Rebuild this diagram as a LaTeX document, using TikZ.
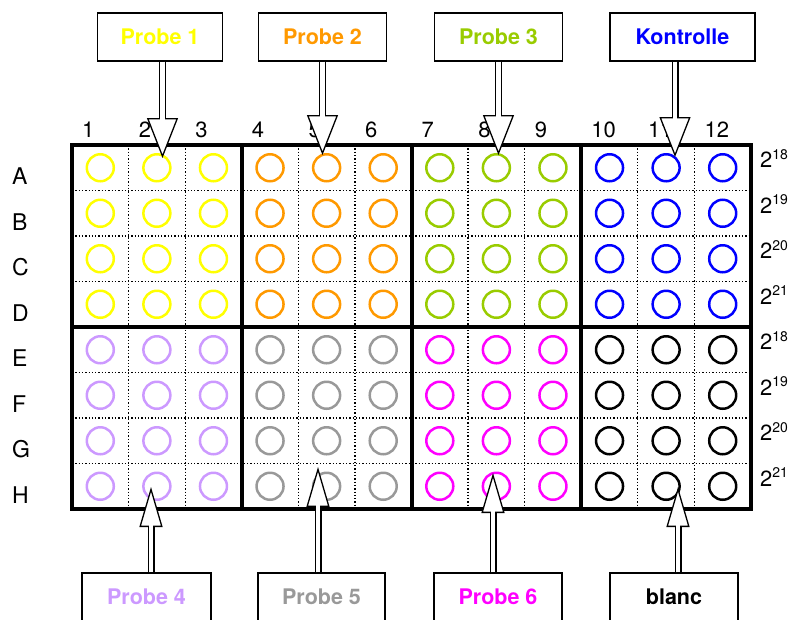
\documentclass[tikz,border=0pt]{standalone}
\usepackage{fontspec}
\setmainfont{TeX Gyre Heros}
\usepackage{xcolor}
\usetikzlibrary{arrows.meta,positioning}

\definecolor{pone}{HTML}{FFFF00}
\definecolor{ptwo}{HTML}{FF9900}
\definecolor{pthree}{HTML}{99CC00}
\definecolor{pctrl}{HTML}{0000FF}
\definecolor{pfour}{HTML}{CC99FF}
\definecolor{pfive}{HTML}{999999}
\definecolor{psix}{HTML}{FF00FF}
\definecolor{pblanc}{HTML}{000000}

\begin{document}
\begin{tikzpicture}[
x=1pt,
y=-1pt,
every node/.style={font=\fontsize{22}{26}\selectfont},
well/.style={circle,line width=2.5pt,minimum size=27pt,inner sep=0pt},
lab/.style={rectangle,draw,line width=1.4pt,fill=white,minimum height=48pt,inner sep=0pt,font=\fontsize{21.5}{26}\selectfont\bfseries},
colnum/.style={anchor=base west,inner sep=0pt},
rowlab/.style={anchor=base west,inner sep=0pt,font=\fontsize{23}{26}\selectfont},
expo/.style={anchor=base west,inner sep=0pt},
plate/.style={line width=4pt},
sep/.style={dotted,line width=1.3pt},
down/.style={line width=7pt,-{Triangle[length=40pt 0 0,width=31pt 0 0,line width=1.3pt 0 0,fill=white]},postaction={draw=white,line width=4.4pt,-,shorten >=38pt}},
up/.style={line width=7pt,-{Triangle[length=40pt 0 0,width=23pt 0 0,line width=1.3pt 0 0,fill=white]},postaction={draw=white,line width=4.4pt,-,shorten >=38pt}}
]
\useasboundingbox (0,0) rectangle (789,619);

% plate grid
\foreach \k in {1,...,11} \draw[sep] ({72+\k*56.583},145) -- ({72+\k*56.583},509);
\foreach \i in {1,...,7} \draw[sep] (72,{145+\i*45.5}) -- (751,{145+\i*45.5});
\draw[plate] (72,145) rectangle (751,509);
\foreach \k in {3,6,9} \draw[plate] ({72+\k*56.583},145) -- ({72+\k*56.583},509);
\draw[plate] (72,327) -- (751,327);

% wells
\foreach \b/\ct/\cb in {0/pone/pfour,1/ptwo/pfive,2/pthree/psix,3/pctrl/pblanc}{
  \foreach \k in {1,2,3}{
    \pgfmathtruncatemacro{\cc}{3*\b+\k}
    \foreach \r/\i in {A/1,B/2,C/3,D/4}
      \node[well,draw=\ct] (w-\r-\cc) at ({72+(\cc-0.5)*56.583},{145+(\i-0.5)*45.5}) {};
    \foreach \r/\i in {E/5,F/6,G/7,H/8}
      \node[well,draw=\cb] (w-\r-\cc) at ({72+(\cc-0.5)*56.583},{145+(\i-0.5)*45.5}) {};
  }
}

% labels round the plate
\foreach \k in {1,...,12} \node[colnum] (n\k) at ({82+(\k-1)*56.583},137) {\k};
\foreach \r/\i in {A/1,B/2,C/3,D/4,E/5,F/6,G/7,H/8}
  \node[rowlab] (r\r) at (12,{145+(\i-0.5)*45.5+17}) {\r};
\foreach \r/\i/\e in {A/1/18,B/2/19,C/3/20,D/4/21,E/5/18,F/6/19,G/7/20,H/8/21}
  \node[expo] (e\r) at (760,{145+(\i-0.5)*45.5}) {2\raisebox{8.5pt}{\fontsize{14}{14}\selectfont\e}};

% sample boxes
\node[lab,minimum width=124.6pt,text=pone] (p1) at (160,37) {Probe 1};
\node[lab,minimum width=128.4pt,text=ptwo] (p2) at (322.5,37) {Probe 2};
\node[lab,minimum width=128.4pt,text=pthree] (p3) at (498.5,37) {Probe 3};
\node[lab,minimum width=145pt,text=pctrl] (ctrl) at (682.5,37) {Kontrolle};
\node[lab,minimum width=129pt,text=pfour] (p4) at (146.5,597) {Probe 4};
\node[lab,minimum width=127pt,text=pfive] (p5) at (321.5,597) {Probe 5};
\node[lab,minimum width=128pt,text=psix] (p6) at (498,597) {Probe 6};
\node[lab,minimum width=128pt,text=pblanc] (blanc) at (674,597) {blanc};

% arrow tips
\coordinate (t1) at (162.5,158);
\coordinate (t2) at (322.5,155);
\coordinate (t3) at (498.5,155);
\coordinate (tk) at (675,157);
\coordinate (t4) at (151,487);
\coordinate (t5) at (318,467);
\coordinate (t6) at (493,473);
\coordinate (tb) at (678,487);

\draw[down] (p1.south -| t1) -- (t1);
\draw[down] (p2.south -| t2) -- (t2);
\draw[down] (p3.south -| t3) -- (t3);
\draw[down] (ctrl.south -| tk) -- (tk);
\draw[up] (p4.north -| t4) -- (t4);
\draw[up] (p5.north -| t5) -- (t5);
\draw[up] (p6.north -| t6) -- (t6);
\draw[up] (blanc.north -| tb) -- (tb);
\end{tikzpicture}
\end{document}
